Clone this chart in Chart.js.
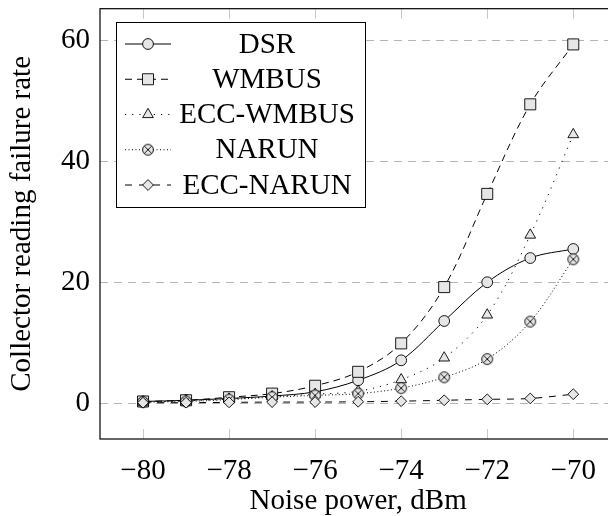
<!DOCTYPE html>
<html>
<head>
<meta charset="utf-8">
<script src="https://cdn.jsdelivr.net/npm/chart.js@4/dist/chart.umd.min.js"></script>
<style>
  html, body { margin: 0; padding: 0; background: #fff; overflow: hidden; }
  #wrap { width: 625px; height: 516px; position: relative; }
</style>
</head>
<body>
<div id="wrap"><canvas id="Chart"></canvas></div>
<script>
'use strict';

// noise power, dBm
let noisePower = [-80, -79, -78, -77, -76, -75, -74, -73, -72, -71, -70];

let dsr = [0.3, 0.5, 0.8, 1.2, 1.9, 3.8, 7.1, 13.6, 20.0, 24.0, 25.5];
let wmbus = [0.3, 0.5, 1.0, 1.6, 2.9, 5.2, 9.9, 19.2, 34.6, 49.4, 59.3];
let eccWmbus = [0.2, 0.4, 0.7, 1.1, 1.5, 2.0, 3.9, 7.5, 14.6, 27.8, 44.4];
let narun = [0.2, 0.3, 0.6, 1.0, 1.3, 1.6, 2.5, 4.3, 7.3, 13.5, 23.8];
let eccNarun = [0.1, 0.1, 0.15, 0.2, 0.2, 0.25, 0.35, 0.5, 0.65, 0.8, 1.5];

let seriesNames = ['DSR', 'WMBUS', 'ECC-WMBUS', 'NARUN', 'ECC-NARUN'];
let seriesValues = [dsr, wmbus, eccWmbus, narun, eccNarun];

let xTicks = [-80, -78, -76, -74, -72, -70];
let yTicks = [0, 20, 40, 60];

const FONT = "'Liberation Serif', 'Times New Roman', serif";
const MARK_FILL = '#e6e6e6';

// circle with a cross inside, used for NARUN
function crossedCircle() {
    let c = document.createElement('canvas');
    c.width = 14;
    c.height = 14;
    let g = c.getContext('2d');
    let r = 5.4;
    g.lineWidth = 0.9;
    g.strokeStyle = '#000';
    g.fillStyle = MARK_FILL;
    g.beginPath();
    g.arc(7, 7, r, 0, Math.PI * 2);
    g.fill();
    g.stroke();
    let d = r * Math.SQRT1_2;
    g.beginPath();
    g.moveTo(7 - d, 7 - d);
    g.lineTo(7 + d, 7 + d);
    g.moveTo(7 - d, 7 + d);
    g.lineTo(7 + d, 7 - d);
    g.stroke();
    return c;
}

let styles = [
    { pointStyle: 'circle', radius: 5.4, dash: [] },
    { pointStyle: 'rect', radius: 7.8, dash: [7, 5] },
    { pointStyle: 'triangle', radius: 6.2, dash: [1.2, 6] },
    { pointStyle: crossedCircle(), radius: 6, dash: [1, 2.5] },
    { pointStyle: 'rectRot', radius: 5.4, dash: [7, 7] }
];

let datasets = [];
for (let i = 0; i < seriesNames.length; i++) {
    datasets.push({
        label: seriesNames[i],
        data: noisePower.map((x, j) => ({ x: x, y: seriesValues[i][j] })),
        borderColor: '#000',
        borderWidth: 1,
        borderDash: styles[i].dash,
        backgroundColor: MARK_FILL,
        pointStyle: styles[i].pointStyle,
        pointRadius: styles[i].radius,
        pointBorderWidth: 0.9,
        pointBorderColor: '#000',
        pointBackgroundColor: MARK_FILL,
        tension: 0.35,
        order: seriesNames.length - i
    });
}

// frame, small inner tick marks and the legend box
let framePlugin = {
    id: 'frame',
    beforeDatasetsDraw(chart) {
        let ctx = chart.ctx;
        let a = chart.chartArea;
        let xs = chart.scales.x;
        ctx.save();
        ctx.strokeStyle = '#c8c8c8';
        ctx.lineWidth = 1;
        ctx.beginPath();
        xTicks.forEach(v => {
            let px = Math.round(xs.getPixelForValue(v)) + 0.5;
            ctx.moveTo(px, a.bottom);
            ctx.lineTo(px, a.bottom - 10);
            ctx.moveTo(px, a.top);
            ctx.lineTo(px, a.top + 10);
        });
        ctx.stroke();
        ctx.restore();
    },
    afterDraw(chart) {
        let ctx = chart.ctx;
        let a = chart.chartArea;
        ctx.save();
        ctx.strokeStyle = '#000';
        ctx.lineWidth = 1.2;
        ctx.strokeRect(a.left, a.top, a.right - a.left, a.bottom - a.top);

        // legend
        let box = { left: 116, top: 22, right: 365, bottom: 207 };
        ctx.fillStyle = '#fff';
        ctx.fillRect(box.left, box.top, box.right - box.left, box.bottom - box.top);
        ctx.lineWidth = 1;
        ctx.strokeRect(box.left + 0.5, box.top + 0.5, box.right - box.left, box.bottom - box.top);

        let rowGap = 35.25;
        chart.data.datasets.forEach((ds, i) => {
            let y = 44 + i * rowGap;
            ctx.strokeStyle = '#000';
            ctx.lineWidth = 1;
            ctx.setLineDash(ds.borderDash);
            ctx.beginPath();
            ctx.moveTo(125, y);
            ctx.lineTo(171, y);
            ctx.stroke();
            ctx.setLineDash([]);
            ctx.fillStyle = MARK_FILL;
            ctx.lineWidth = 0.9;
            if (Chart.helpers && Chart.helpers.drawPoint) {
                Chart.helpers.drawPoint(ctx, {
                    pointStyle: ds.pointStyle,
                    radius: ds.pointRadius,
                    rotation: 0,
                    borderWidth: 0.9
                }, 148, y);
            } else {
                ctx.beginPath();
                ctx.arc(148, y, 5, 0, Math.PI * 2);
                ctx.fill();
                ctx.stroke();
            }
            ctx.fillStyle = '#000';
            ctx.font = '29px ' + FONT;
            ctx.textAlign = 'center';
            ctx.textBaseline = 'middle';
            ctx.fillText(ds.label, 267, y + 1);
        });
        ctx.restore();
    }
};

let ctx = document.getElementById('Chart').getContext('2d');
let chart = new Chart(ctx, {
    type: 'line',
    data: { datasets: datasets },
    options: {
        responsive: true,
        maintainAspectRatio: false,
        animation: false,
        devicePixelRatio: 1,
        layout: { padding: { top: 7, right: 6, left: 0, bottom: 0 } },
        plugins: {
            legend: { display: false },
            tooltip: { enabled: false }
        },
        scales: {
            x: {
                type: 'linear',
                min: -81,
                max: -69,
                afterFit(scale) {
                    scale.height = 77;
                    scale.paddingLeft = 0;
                    scale.paddingRight = 0;
                },
                afterBuildTicks(scale) { scale.ticks = xTicks.map(v => ({ value: v })); },
                grid: { display: false },
                border: { display: false },
                ticks: {
                    padding: 7,
                    color: '#000',
                    font: { family: FONT, size: 29 },
                    maxRotation: 0,
                    callback: v => (v < 0 ? '\u2212' : '') + Math.abs(v)
                },
                title: {
                    display: true,
                    text: 'Noise power, dBm',
                    color: '#000',
                    font: { family: FONT, size: 29, lineHeight: 1.0 },
                    padding: { top: 0, bottom: 0 }
                }
            },
            y: {
                type: 'linear',
                min: -5.9,
                max: 65.2,
                afterFit(scale) {
                    scale.width = 100;
                    scale.paddingTop = 0;
                    scale.paddingBottom = 0;
                },
                afterBuildTicks(scale) { scale.ticks = yTicks.map(v => ({ value: v })); },
                grid: {
                    color: '#b4b4b4',
                    lineWidth: 1,
                    drawTicks: false
                },
                border: { display: false, dash: [8, 6] },
                ticks: {
                    padding: 10,
                    color: '#000',
                    font: { family: FONT, size: 29 }
                },
                title: {
                    display: true,
                    text: 'Collector reading failure rate',
                    color: '#000',
                    font: { family: FONT, size: 29, lineHeight: 1.2 },
                    padding: { top: 5, bottom: 0 }
                }
            }
        }
    },
    plugins: [framePlugin]
});
</script>
</body>
</html>
